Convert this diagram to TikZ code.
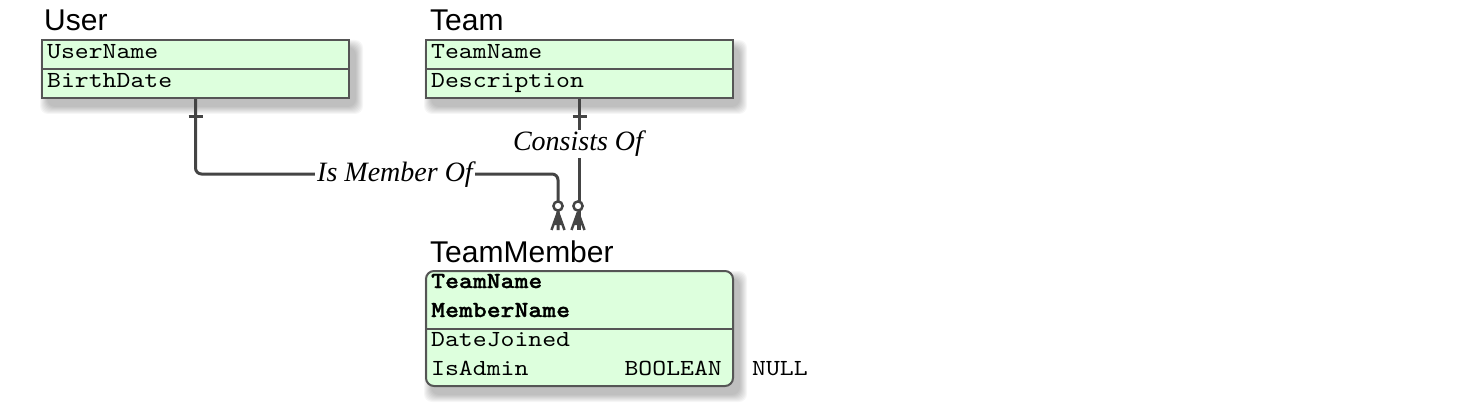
\documentclass[tikz,border=0pt]{standalone}
\usepackage{fontspec}
\setmainfont{Liberation Serif}
\setmonofont[FakeStretch=1.15, BoldFont=lmmonolt10-bold.otf, BoldFeatures={FakeStretch=1.15, FakeBold=1.2}]{lmmono10-regular.otf}
\newfontfamily\titlefont{Liberation Sans}
\usetikzlibrary{calc,backgrounds}
\definecolor{boxfill}{HTML}{DDFFDD}
\definecolor{boxline}{HTML}{555555}
\definecolor{relline}{HTML}{444444}
\begin{document}
\begin{tikzpicture}[x=1pt,y=-1pt,
  entity/.style={draw=boxline, line width=2pt, fill=boxfill, inner sep=0pt, anchor=north west, minimum width=307pt},
  divider/.style={draw=boxline, line width=2pt},
  title/.style={font=\titlefont\fontsize{30}{30}\selectfont, anchor=base west, inner sep=0pt},
  attr/.style={font=\ttfamily\fontsize{23}{23}\selectfont, anchor=base west, inner sep=0pt},
  keyattr/.style={attr, font=\ttfamily\bfseries\fontsize{23}{23}\selectfont},
  rel/.style={draw=relline, line width=3pt},
  rellabel/.style={font=\itshape\fontsize{28}{28}\selectfont, fill=white, inner xsep=2pt, inner ysep=1pt},
]
\useasboundingbox (0,0) rectangle (1463,409);

% entity boxes
\node[entity, minimum height=58pt] (user) at (41,39) {};
\node[entity, minimum height=58pt] (team) at (425,39) {};
\node[entity, rounded corners=8pt, minimum height=115pt] (tm) at (425,270) {};

% soft shadows
\begin{scope}[on background layer]
  \foreach \n in {user,team,tm} {
    \foreach \i in {0,...,7} {
      \fill[black, fill opacity=0.035, rounded corners=8pt]
        ($(\n.north west)+(-1+\i,1+\i)$) rectangle ($(\n.south east)+(13-\i,15-\i)$);
    }
  }
\end{scope}

% dividers
\draw[divider] (user.west) -- (user.east);
\draw[divider] (team.west) -- (team.east);
\draw[divider] (tm.west) -- (tm.east);

% titles
\node[title] (userT) at (44,31) {User};
\node[title] (teamT) at (430,31) {Team};
\node[title] (tmT) at (430,262) {TeamMember};

% attributes
\node[attr] (u1) at (47,59) {UserName};
\node[attr] (u2) at (47,88) {BirthDate};
\node[attr] (t1) at (431,59) {TeamName};
\node[attr] (t2) at (431,88) {Description};
\node[keyattr] (m1) at (431,288) {TeamName};
\node[keyattr] (m2) at (431,317) {MemberName};
\node[attr] (m3) at (431,346) {DateJoined};
\node[attr] (m4) at (431,375) {IsAdmin};
\node[attr, anchor=base east] (m4t) at (722,375) {BOOLEAN};
\node[attr] (m4n) at (752,375) {NULL};

% connector end points
\coordinate (e1) at (558,230);
\coordinate (e2) at (578,230);

% relationships
\draw[rel, rounded corners=6pt] (user.south) |- ($(e1)+(0,-56)$) -- (e1);
\node[rellabel] (lab1) at (395,175) {Is Member Of};
\draw[rel] (team.south) -- (team.south |- e2);
\node[rellabel] (lab2) at (578,144) {Consists Of};

% one bars
\draw[rel] ($(user.south)+(-7,18)$) -- ($(user.south)+(7,18)$);
\draw[rel] ($(team.south)+(-7,18)$) -- ($(team.south)+(7,18)$);

% zero-or-many ends
\foreach \e in {e1,e2} {
  \fill[relline] ($(\e)+(0,-18)$) -- ($(\e)+(-4,-5)$) -- ($(\e)+(4,-5)$) -- cycle;
  \draw[rel, line width=2.5pt] ($(\e)+(0,-18)$) -- ($(\e)+(-6.5,0)$);
  \draw[rel, line width=2.5pt] ($(\e)+(0,-18)$) -- (\e);
  \draw[rel, line width=2.5pt] ($(\e)+(0,-18)$) -- ($(\e)+(6.5,0)$);
  \draw[rel, line width=2.5pt, fill=white] ($(\e)+(0,-24)$) circle (4.6pt);
}
\end{tikzpicture}
\end{document}
